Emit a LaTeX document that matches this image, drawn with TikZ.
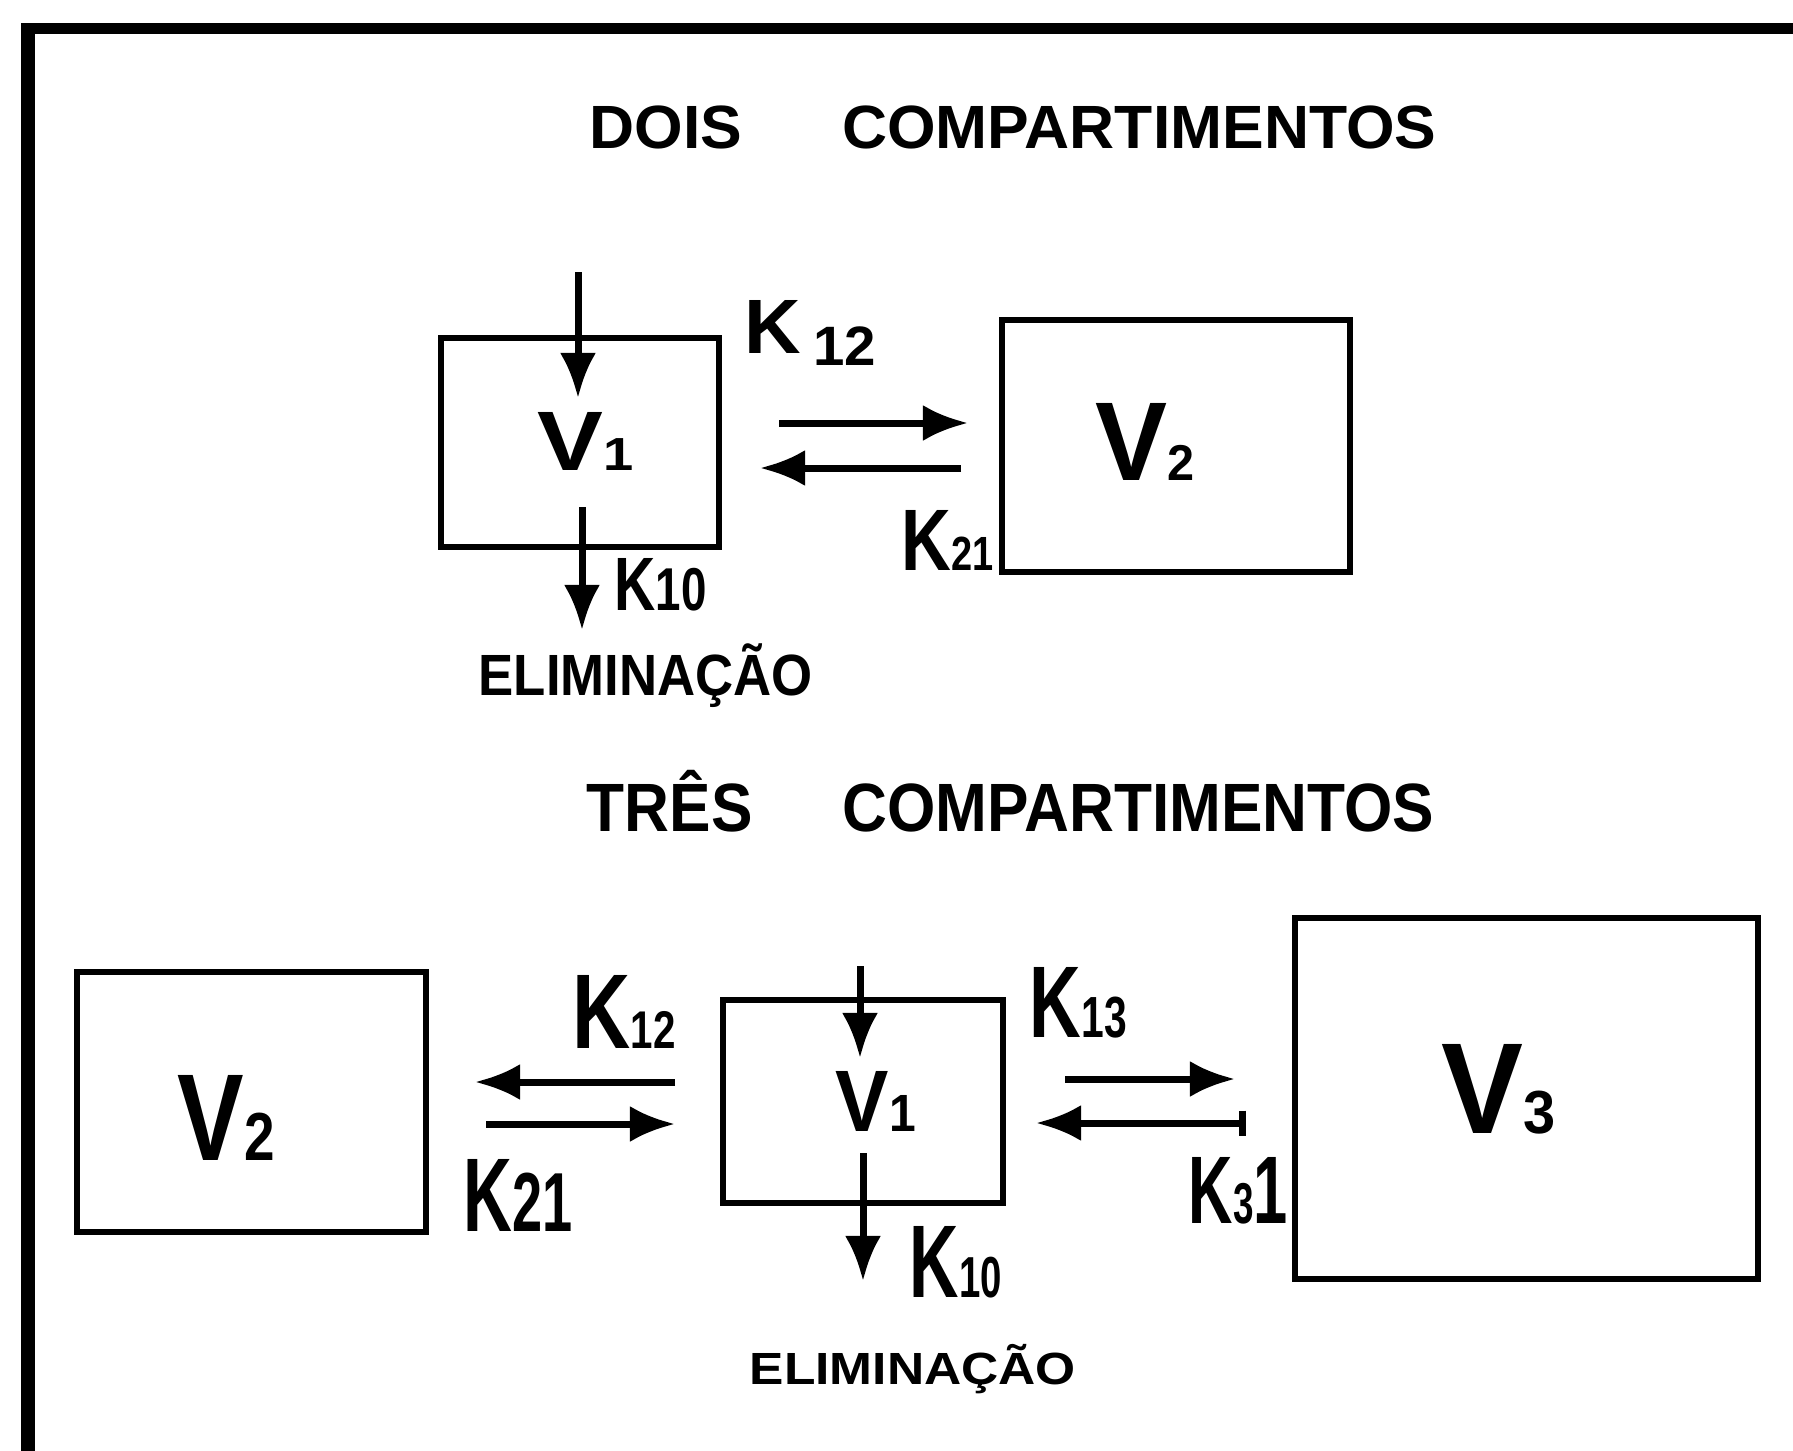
\documentclass[tikz,border=0pt]{standalone}
\usepackage{fontspec}
\setmainfont{Liberation Sans}
\usetikzlibrary{arrows.meta}
\newcommand\hw[3]{\resizebox{#1}{#2}{\raisebox{0pt}[\fontcharht\font`X][0pt]{#3}}}
\newcommand\sd[2]{\scalebox{#1}{#2}}
\begin{document}
\begin{tikzpicture}[x=0.01cm,y=-0.01cm,
  box/.style={draw, line width=0.06cm, inner sep=0pt},
  txt/.style={inner sep=0pt, anchor=base west, font=\bfseries},
  arr/.style={line width=0.07cm, -{Latex[length=0.45cm,width=0.36cm]}},
  arrbar/.style={line width=0.07cm, {Bar[width=0.25cm]}-{Latex[length=0.45cm,width=0.36cm]}}]
\useasboundingbox (0,0) rectangle (1793,1451);
% frame
\fill (21,23) rectangle (35,1451);
\fill (21,23) rectangle (1793,34);
% titles
\node[txt] (t1) at (589,148) {\hw{8.46cm}{0.42cm}{DOIS\hspace{1.6em}COMPARTIMENTOS}};
\node[txt] (t2) at (586,831) {\hw{8.47cm}{0.47cm}{TRÊS\hspace{1.45em}COMPARTIMENTOS}};
% upper boxes
\node[box, minimum width=2.78cm, minimum height=2.09cm] (a1) at (580,442.5) {};
\node[box, minimum width=3.48cm, minimum height=2.52cm] (a2) at (1176,446) {};
\node[txt] (a1t) at (537,470) {\hw{0.96cm}{0.58cm}{V\sd{0.55}{1}}};
\node[txt] (a2t) at (1095,480) {\hw{0.99cm}{0.77cm}{V\sd{0.45}{2}}};
% upper arrows
\coordinate (a1inS) at (578,272); \coordinate (a1inE) at (578,398);
\coordinate (k12S) at (779,423);  \coordinate (k12E) at (968,423);
\coordinate (k21S) at (961,468);  \coordinate (k21E) at (760,468);
\coordinate (a1outS) at (582,507); \coordinate (a1outE) at (582,630);
\draw[arr] (a1inS) -- (a1inE);
\draw[arr] (k12S) -- (k12E);
\draw[arr] (k21S) -- (k21E);
\draw[arr] (a1outS) -- (a1outE);
% upper labels
\node[txt] (lk12) at (744,353) {\hw{1.31cm}{0.53cm}{K\hspace{0.15em}\raisebox{-0.16em}{\sd{0.72}{12}}}};
\node[txt] (lk21) at (901,570) {\hw{0.92cm}{0.60cm}{K\sd{0.55}{21}}};
\node[txt] (lk10) at (614,610) {\hw{0.92cm}{0.52cm}{K\sd{0.8}{10}}};
\node[txt] (el1) at (478,695) {\hw{3.34cm}{0.40cm}{ELIMINAÇÃO}};
% lower boxes
\node[box, minimum width=3.49cm, minimum height=2.60cm] (b2) at (251.5,1102) {};
\node[box, minimum width=2.80cm, minimum height=2.03cm] (b1) at (863,1101.5) {};
\node[box, minimum width=4.63cm, minimum height=3.61cm] (b3) at (1526.5,1098.5) {};
\node[txt] (b2t) at (177,1160) {\hw{0.97cm}{0.85cm}{V\sd{0.55}{2}}};
\node[txt] (b1t) at (835,1131) {\hw{0.80cm}{0.60cm}{V\sd{0.6}{1}}};
\node[txt] (b3t) at (1441,1133) {\hw{1.14cm}{0.89cm}{V\sd{0.47}{3}}};
% lower arrows
\coordinate (bk12S) at (675,1082); \coordinate (bk12E) at (475,1082);
\coordinate (bk21S) at (486,1124); \coordinate (bk21E) at (675,1124);
\coordinate (b1inS) at (860,966);  \coordinate (b1inE) at (860,1058);
\coordinate (b1outS) at (863,1153); \coordinate (b1outE) at (863,1281);
\coordinate (bk13S) at (1065,1079); \coordinate (bk13E) at (1235,1079);
\coordinate (bk31S) at (1246,1123); \coordinate (bk31E) at (1036,1123);
\draw[arr] (bk12S) -- (bk12E);
\draw[arr] (bk21S) -- (bk21E);
\draw[arr] (b1inS) -- (b1inE);
\draw[arr] (b1outS) -- (b1outE);
\draw[arr] (bk13S) -- (bk13E);
\draw[arrbar] (bk31S) -- (bk31E);
% lower labels
\node[txt] (mk12) at (572,1048) {\hw{1.03cm}{0.73cm}{K\sd{0.5}{12}}};
\node[txt] (mk21) at (463,1231) {\hw{1.09cm}{0.72cm}{K\sd{0.8}{21}}};
\node[txt] (mk10) at (909,1297) {\hw{0.92cm}{0.71cm}{K\sd{0.56}{10}}};
\node[txt] (mk13) at (1029,1037) {\hw{0.97cm}{0.70cm}{K\sd{0.57}{13}}};
\node[txt] (mk31) at (1188,1223) {\hw{0.99cm}{0.66cm}{K\sd{0.6}{3}1}};
\node[txt] (el2) at (749,1384) {\hw{3.26cm}{0.31cm}{ELIMINAÇÃO}};
\end{tikzpicture}
\end{document}
